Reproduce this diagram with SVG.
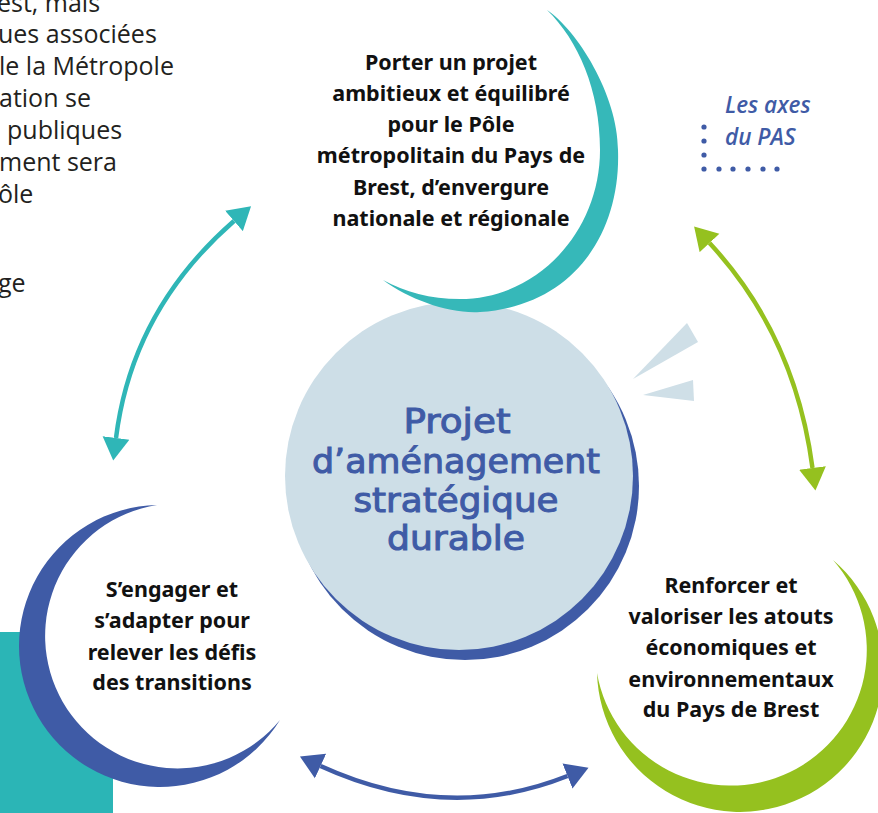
<svg xmlns="http://www.w3.org/2000/svg" width="878" height="813" viewBox="0 0 878 813">
<defs>
<style>
.para{font-family:"Open Sans","Liberation Sans",sans-serif;font-size:25px;fill:#231f20}
.node{font-family:"Noto Sans","Liberation Sans",sans-serif;font-weight:700;font-size:21.5px;fill:#111111;text-anchor:middle}
.core{font-family:"DejaVu Sans","Liberation Sans",sans-serif;font-size:33px;fill:#3f5ba6;stroke:#3f5ba6;stroke-width:1;text-anchor:middle}
.axes{font-family:"Open Sans","Liberation Sans",sans-serif;font-style:italic;font-weight:600;font-size:22.5px;fill:#3f5ba6}
.shaft{fill:none;stroke-width:4.5;stroke-linecap:butt}
</style>
<marker id="hTeal" markerUnits="userSpaceOnUse" markerWidth="24" markerHeight="28" refX="0" refY="0" viewBox="0 -13 22 26" orient="auto-start-reverse"><path d="M0,-12.5 L21,0 L0,12.5 Z" fill="#2fb6b7"/></marker>
<marker id="hGreen" markerUnits="userSpaceOnUse" markerWidth="24" markerHeight="28" refX="0" refY="0" viewBox="0 -13 22 26" orient="auto-start-reverse"><path d="M0,-12.5 L21,0 L0,12.5 Z" fill="#95c11f"/></marker>
<marker id="hBlue" markerUnits="userSpaceOnUse" markerWidth="24" markerHeight="28" refX="0" refY="0" viewBox="0 -13 22 26" orient="auto-start-reverse"><path d="M0,-12.5 L21,0 L0,12.5 Z" fill="#3f5ba6"/></marker>
</defs>
<rect width="878" height="813" fill="#ffffff"/>

<g id="paragraph">
<text class="para" x="-3" y="12">est, mais</text>
<text class="para" x="-2" y="43">ues associées</text>
<text class="para" x="-1" y="75">le la Métropole</text>
<text class="para" x="-1" y="107">ation se</text>
<text class="para" x="7" y="139">publiques</text>
<text class="para" x="-1" y="171">ment sera</text>
<text class="para" x="-2" y="203">ôle</text>
<text class="para" x="-2" y="292">ge</text>
</g>

<rect id="teal-block" x="0" y="632" width="113" height="181" fill="#2bb5b6"/>

<g id="legend">
<text class="axes" x="725" y="113">Les axes</text>
<text class="axes" x="725" y="145">du PAS</text>
<g fill="#3f5ba6">
<circle cx="704" cy="127" r="2.6"/><circle cx="704" cy="141" r="2.6"/><circle cx="704" cy="155" r="2.6"/>
<circle cx="704" cy="169" r="2.6"/><circle cx="719" cy="169" r="2.6"/><circle cx="733" cy="169" r="2.6"/>
<circle cx="748" cy="169" r="2.6"/><circle cx="763" cy="169" r="2.6"/><circle cx="777" cy="169" r="2.6"/>
</g>
</g>

<g id="core">
<circle cx="465" cy="486" r="174" fill="#3f5ba6"/>
<circle cx="459" cy="476" r="174" fill="#cddee7"/>
<text class="core" x="457" y="433" textLength="107" lengthAdjust="spacingAndGlyphs">Projet</text>
<text class="core" x="456" y="473" textLength="288" lengthAdjust="spacingAndGlyphs">d’aménagement</text>
<text class="core" x="456" y="512" textLength="205" lengthAdjust="spacingAndGlyphs">stratégique</text>
<text class="core" x="456" y="550" textLength="138" lengthAdjust="spacingAndGlyphs">durable</text>
</g>

<g id="rays" fill="#cfdfe7">
<polygon points="633,379 687,323 698,342"/>
<polygon points="643,395 693,380 694,401"/>
</g>

<g id="axe1">
<circle cx="440" cy="140" r="158" fill="#ffffff"/>
<path fill="#36b8b9" d="M547,10 C577,30 618,95 618,150 C621,235 572,306 480,312 C450,314 410,300 383,280 C405,292 430,299 460,299 C537,299 600,232 600,150 C600,90 578,40 547,10 Z"/>
<text class="node" x="451" y="70">Porter un projet</text>
<text class="node" x="451" y="101">ambitieux et équilibré</text>
<text class="node" x="451" y="132">pour le Pôle</text>
<text class="node" x="451" y="163">métropolitain du Pays de</text>
<text class="node" x="451" y="195">Brest, d’envergure</text>
<text class="node" x="451" y="226">nationale et régionale</text>
</g>

<g id="axe2">
<circle cx="177.7" cy="636" r="133.5" fill="#ffffff"/>
<path fill="#3f5ba6" d="M157,505 A141,141 0 1 0 280,720 A132.5,132.5 0 1 1 157,505 Z"/>
<text class="node" x="172" y="597">S’engager et</text>
<text class="node" x="172" y="628">s’adapter pour</text>
<text class="node" x="172" y="660">relever les défis</text>
<text class="node" x="172" y="690">des transitions</text>
</g>

<g id="axe3">
<circle cx="731" cy="650" r="136" fill="#ffffff"/>
<path fill="#95c11f" d="M833,560 A143.1,143.1 0 1 1 597,673 A135.9,135.9 0 1 0 833,560 Z"/>
<text class="node" x="731" y="593">Renforcer et</text>
<text class="node" x="731" y="624">valoriser les atouts</text>
<text class="node" x="731" y="655">économiques et</text>
<text class="node" x="731" y="687">environnementaux</text>
<text class="node" x="731" y="717">du Pays de Brest</text>
</g>

<g id="connectors">
<path class="shaft" stroke="#2fb6b7" d="M116,438 Q132,310 234,221" marker-start="url(#hTeal)" marker-end="url(#hTeal)"/>
<path class="shaft" stroke="#95c11f" d="M709.5,243 Q795,335 812.5,468" marker-start="url(#hGreen)" marker-end="url(#hGreen)"/>
<path class="shaft" stroke="#3f5ba6" d="M320.5,766 Q447,824 567.5,776" marker-start="url(#hBlue)" marker-end="url(#hBlue)"/>
</g>
</svg>
